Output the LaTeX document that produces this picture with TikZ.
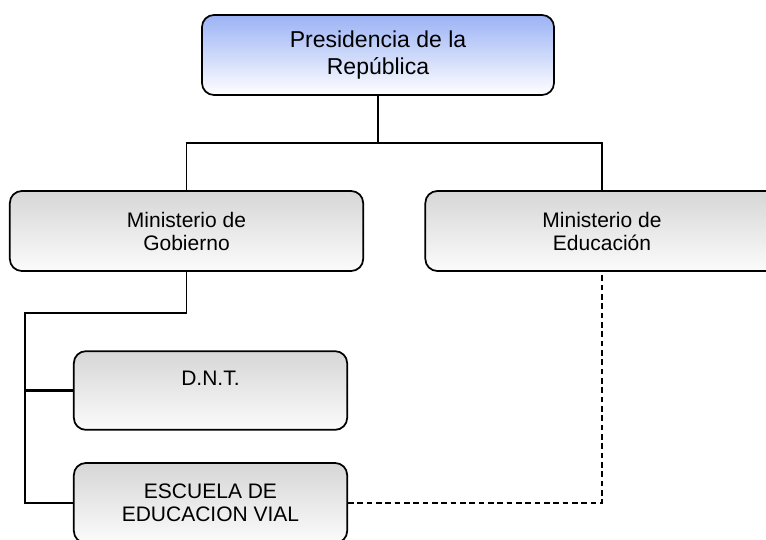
\documentclass[tikz,border=0pt]{standalone}
\usepackage{fontspec}
\setmainfont{Liberation Sans}
\definecolor{presblue}{RGB}{155,178,245}

\begin{document}
\begin{tikzpicture}[
                    x=0.75pt, y=-0.75pt, % pixel units, y pointing down
                    orgbox/.style={draw, line width=1.3pt, rounded corners=9pt,
                        inner sep=0pt, align=center, minimum height=60pt,
                        top color=gray!32, bottom color=gray!3,
                        font=\fontsize{15.75}{17.25}\selectfont},
                    link/.style={line width=1.2pt}
                ]
                \useasboundingbox (0,0) rectangle (766,539);

                \node[orgbox, minimum width=264pt, top color=presblue,
                      bottom color=white,
                      font=\fontsize{17.25}{20.25}\selectfont]
                    (pres) at (378,55) {Presidencia de la\\ República};
                \node[orgbox, minimum width=265pt] (gob) at (186.5,231) {Ministerio de\\ Gobierno};
                \node[orgbox, minimum width=265pt] (edu) at (602,231) {Ministerio de\\ Educación};
                \node[orgbox, minimum width=205pt, minimum height=59pt,
                      text height=11pt, text depth=19pt]
                    (dnt) at (210.5,390.5) {D.N.T.};
                \node[orgbox, minimum width=205pt] (esc) at (210.5,503) {ESCUELA DE\\ EDUCACION VIAL};

                \coordinate (bus) at (378,143);
                \coordinate (rail) at (25,313);

                \draw[link] (pres.south) -- (bus);
                \draw[link] (gob.north) |- (bus) -| (edu.north);
                \draw[link] (gob.south) |- (rail) -- (rail |- esc.west) -- (esc.west);
                \draw[line width=2pt] (rail |- dnt.west) -- (dnt.west);
                \draw[link, dash pattern=on 4.3pt off 2.7pt] (esc.east) -| (edu.south);
            \end{tikzpicture}
\end{document}
